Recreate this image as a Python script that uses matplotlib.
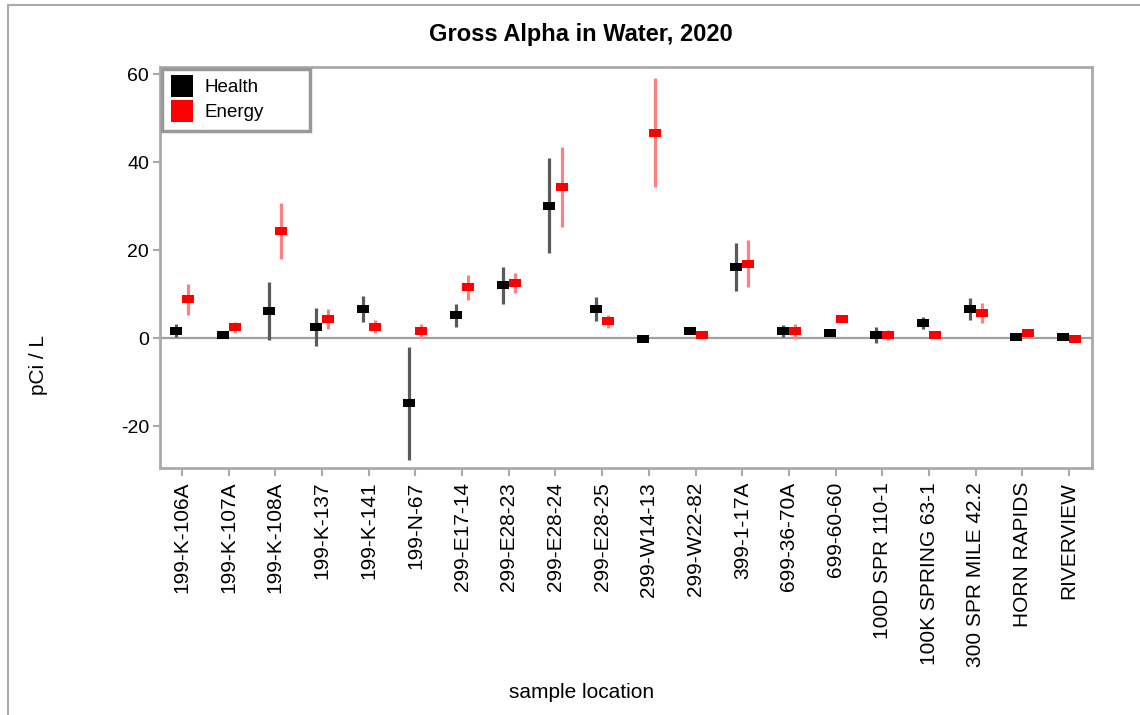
import matplotlib
matplotlib.use('Agg')
import matplotlib.pyplot as plt
from matplotlib.lines import Line2D
import numpy as np

plt.rcParams['font.family'] = ['Liberation Sans', 'DejaVu Sans']
plt.rcParams['axes.unicode_minus'] = False

locations = ['199-K-106A', '199-K-107A', '199-K-108A', '199-K-137', '199-K-141',
             '199-N-67', '299-E17-14', '299-E28-23', '299-E28-24', '299-E28-25',
             '299-W14-13', '299-W22-82', '399-1-17A', '699-36-70A', '699-60-60',
             '100D SPR 110-1', '100K SPRING 63-1', '300 SPR MILE 42.2',
             'HORN RAPIDS', 'RIVERVIEW']

health = [1.7, 0.7, 6.2, 2.6, 6.7, -14.8, 5.2, 12.1, 30.2, 6.7,
          -0.2, 1.6, 16.2, 1.6, 1.1, 0.75, 3.5, 6.7, 0.2, 0.2]
health_err = [1.5, 0.5, 6.5, 4.3, 3.0, 12.9, 2.7, 4.2, 10.8, 2.7,
              0.5, 0.7, 5.4, 1.4, 0.6, 1.8, 1.4, 2.5, 0.4, 0.4]

energy = [8.9, 2.5, 24.4, 4.4, 2.6, 1.6, 11.6, 12.6, 34.4, 3.9,
          46.7, 0.7, 17.0, 1.6, 4.3, 0.75, 0.75, 5.75, 1.2, -0.2]
energy_err = [3.5, 1.2, 6.3, 2.2, 1.5, 1.6, 2.8, 2.2, 9.2, 1.5,
              12.4, 0.6, 5.4, 1.7, 0.6, 1.2, 0.6, 2.2, 1.0, 0.6]

x = np.arange(len(locations))
rect = [(-1.5, -1), (1.5, -1), (1.5, 1), (-1.5, 1), (-1.5, -1)]
grey = '#aaaaaa'

fig = plt.figure(figsize=(11.4, 7.15), dpi=100)
ax = fig.add_axes([160/1140, 1-468/715, (1092-160)/1140, (468-67)/715])

ax.axhline(0, color='#a0a0a0', lw=1.6, zorder=1)
ax.errorbar(x-0.13, health, yerr=health_err, fmt='none', ecolor='#5a5a5a',
            elinewidth=2.3, capsize=0, zorder=2)
ax.errorbar(x+0.13, energy, yerr=energy_err, fmt='none', ecolor='#ff8080',
            elinewidth=2.3, capsize=0, zorder=2)
ax.plot(x-0.13, health, ls='none', marker=rect, ms=9, color='black', mew=0, zorder=3)
ax.plot(x+0.13, energy, ls='none', marker=rect, ms=9, color='#ff0000', mew=0, zorder=3)

ax.set_xlim(-0.47, 19.49)
ax.set_ylim(-29.5, 61.7)
ax.set_yticks([-20, 0, 20, 40, 60])
ax.set_xticks(x)
ax.set_xticklabels(locations, rotation=90, fontsize=15)
ax.tick_params(axis='y', labelsize=14, length=5, width=1.5, color=grey, pad=3)
ax.tick_params(axis='x', length=6, width=1.5, color=grey, pad=4)
for s in ax.spines.values():
    s.set_color(grey)
    s.set_linewidth(2)

handles = [Line2D([], [], ls='none', marker='s', ms=16, color='black', mew=0),
           Line2D([], [], ls='none', marker='s', ms=16, color='#ff0000', mew=0)]
leg = ax.legend(handles, ['Health', 'Energy'], loc='upper left',
                bbox_to_anchor=(0.002, 0, 0.159, 0.995), mode='expand',
                fontsize=13.5, fancybox=False,
                framealpha=1, edgecolor='#999999', handlelength=1.0,
                handletextpad=0.7, labelspacing=0.4, borderpad=0.55,
                borderaxespad=0)
leg.get_frame().set_linewidth(2.5)

fig.text(581/1140, 1-35/715, 'Gross Alpha in Water, 2020', ha='center',
         va='center', fontsize=17, fontweight='bold')
fig.text(38/1140, 1-365/715, 'pCi / L', rotation=90, ha='center',
         va='center', fontsize=15)
fig.text(582/1140, 1-693/715, 'sample location', ha='center', va='center',
         fontsize=15)

# outer frame lines
fig.add_artist(Line2D([8/1140, 8/1140], [0, 1-5/715], color=grey, lw=1.5))
fig.add_artist(Line2D([8/1140, 1], [1-5/715, 1-5/715], color=grey, lw=1.5))

plt.savefig('out.png', dpi=100)
